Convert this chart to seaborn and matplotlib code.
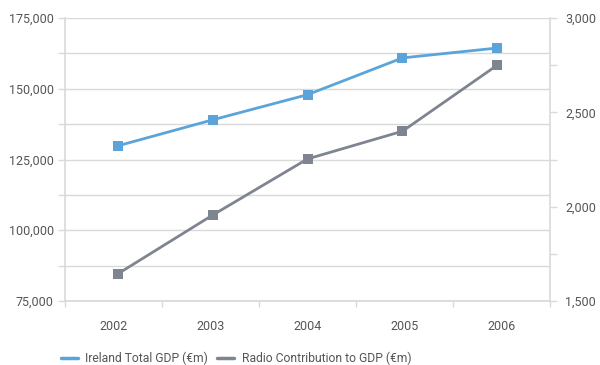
import matplotlib
matplotlib.use("Agg")
import matplotlib.pyplot as plt
from matplotlib.ticker import MultipleLocator, FuncFormatter, NullLocator
from matplotlib.lines import Line2D
import seaborn as sns
import pandas as pd

years = ["2002", "2003", "2004", "2005", "2006"]
gdp_total = [129800, 139000, 147900, 160900, 164400]
radio_contribution = [1643, 1955, 2253, 2400, 2751]

gdp_label = "Ireland Total GDP (€m)"
radio_label = "Radio Contribution to GDP (€m)"

blue = "#5ba4da"
grey = "#7f8590"
grid_c = "#d9d9d9"
text_c = "#555555"

sns.set_theme(style="white")
plt.rcParams["font.family"] = ["Roboto", "DejaVu Sans"]

df = pd.DataFrame({"year": years, "gdp": gdp_total, "radio": radio_contribution})

rect = [0.1083, 0.1753, 0.8084, 0.7754]
fmt = FuncFormatter(lambda v, p: f"{int(v):,}")

# base axes: grid, left scale, category labels and boundaries
fig = plt.figure(figsize=(6.0, 3.65), dpi=100)
ax = fig.add_axes(rect)
ax.set_xlim(-0.5, 4.5)
ax.set_ylim(75000, 175000)
ax.set_xticks(range(len(years)))
ax.set_xticklabels(years)
ax.set_xticks([i - 0.5 for i in range(len(years) + 1)], minor=True)
ax.yaxis.set_major_locator(MultipleLocator(25000))
ax.yaxis.set_minor_locator(MultipleLocator(12500))
ax.yaxis.set_major_formatter(fmt)
ax.grid(True, axis="y", which="both", color=grid_c, linewidth=1.0)
ax.grid(False, axis="x", which="both")
for s in ax.spines.values():
    s.set_visible(False)
ax.spines["left"].set_visible(True)
ax.spines["left"].set_color(grid_c)
ax.spines["left"].set_linewidth(1.2)
ax.spines["bottom"].set_visible(True)
ax.spines["bottom"].set_color(grid_c)
ax.tick_params(axis="y", which="both", left=True, length=5, width=1, color=grid_c,
               labelsize=9, labelcolor=text_c, pad=3)
ax.tick_params(axis="x", which="major", bottom=False, labelsize=9, labelcolor=text_c, pad=8)
ax.tick_params(axis="x", which="minor", bottom=True, length=4, width=1, color=grid_c)

# overlay axes for the two series; points sit slightly inside the category centres
axl = fig.add_axes(rect, facecolor="none")
axr = axl.twinx()
sns.lineplot(data=df, x="year", y="gdp", ax=axl, color=blue, linewidth=2.0,
             marker="s", markersize=7, markeredgewidth=0, sort=False)
sns.lineplot(data=df, x="year", y="radio", ax=axr, color=grey, linewidth=2.0,
             marker="s", markersize=7, markeredgewidth=0, sort=False)
axl.set_xlim(-0.553, 4.553)
axl.set_ylim(75000, 175000)
axr.set_ylim(1500, 3000)
axl.set_axis_off()

axr.set_xlabel("")
axr.set_ylabel("")
axr.xaxis.set_major_locator(NullLocator())
axr.yaxis.set_major_locator(MultipleLocator(500))
axr.yaxis.set_minor_locator(MultipleLocator(250))
axr.yaxis.set_major_formatter(fmt)
axr.grid(False)
for s in axr.spines.values():
    s.set_visible(False)
axr.spines["right"].set_visible(True)
axr.spines["right"].set_color(grid_c)
axr.spines["right"].set_linewidth(1.2)
axr.tick_params(axis="y", which="both", right=True, length=5, width=1, color=grid_c,
                labelsize=9, labelcolor=text_c, pad=6)

handles = [Line2D([], [], color=blue, linewidth=2.5),
           Line2D([], [], color=grey, linewidth=2.5)]
fig.legend(handles, [gdp_label, radio_label], loc="center left",
           bbox_to_anchor=(0.083, 0.018), ncol=2, frameon=False, fontsize=8.7,
           labelcolor=text_c, handlelength=1.4, handletextpad=0.6, columnspacing=0.8)

fig.savefig("out.png", dpi=100)
